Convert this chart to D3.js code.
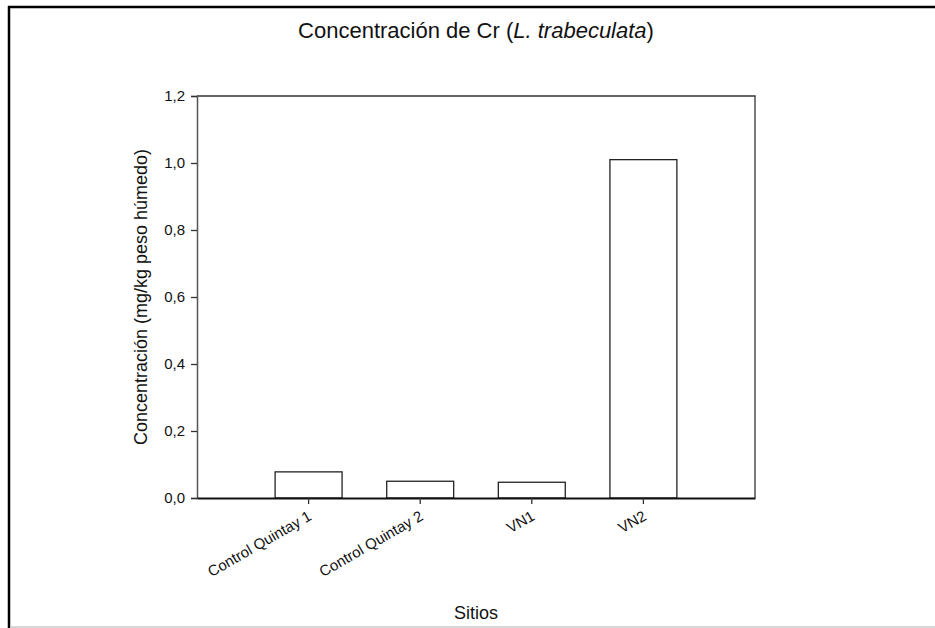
<!DOCTYPE html>
<html lang="es">

<head>
  <meta charset="utf-8">
  <title>Concentración de Cr</title>
  <script src="https://d3js.org/d3.v7.min.js" charset="utf-8"></script>
  <style type="text/css">
    body {
      margin: 0;
      background: #fff;
    }

    text {
      font-family: "Liberation Sans", Arial, sans-serif;
      fill: #111;
    }

    .axis text {
      font-size: 15px;
    }

    .bar {
      fill: #fff;
      stroke: #222;
      stroke-width: 1.3;
    }
  </style>
</head>

<body>

  <svg id="chart"></svg>

  <script type="text/javascript">
    const sitios = ["Control Quintay 1", "Control Quintay 2", "VN1", "VN2"];
    const concentracion = [0.078, 0.05, 0.047, 1.01];
    const yTicks = [0, 0.2, 0.4, 0.6, 0.8, 1.0, 1.2];

    const W = 935, H = 628;
    const plot = { left: 197, top: 96, right: 755, bottom: 498 };

    const svg = d3.select("#chart")
      .attr("width", W)
      .attr("height", H);

    // outer frame: top and left dark, light line at the bottom
    svg.append("line")
      .attr("x1", 8).attr("x2", W).attr("y1", 7).attr("y2", 7)
      .attr("stroke", "#000").attr("stroke-width", 2.5);
    svg.append("line")
      .attr("x1", 9).attr("x2", 9).attr("y1", 6).attr("y2", H)
      .attr("stroke", "#000").attr("stroke-width", 2.5);
    svg.append("line")
      .attr("x1", 10).attr("x2", W).attr("y1", 627).attr("y2", 627)
      .attr("stroke", "#c8c8c8").attr("stroke-width", 1.5);

    const xScale = d3.scaleBand()
      .domain(sitios)
      .range([plot.left, plot.right])
      .paddingInner(0.4)
      .paddingOuter(0.7);

    const yScale = d3.scaleLinear()
      .domain([0, 1.2])
      .range([plot.bottom, plot.top]);

    const data = sitios.map((s, i) => ({ sitio: s, valor: concentracion[i] }));

    // bars
    svg.selectAll(".bar")
      .data(data)
      .enter()
      .append("rect")
      .attr("class", "bar")
      .attr("x", d => xScale(d.sitio))
      .attr("y", d => yScale(d.valor))
      .attr("width", xScale.bandwidth())
      .attr("height", d => yScale(0) - yScale(d.valor));

    // plot frame (top and right)
    svg.append("path")
      .attr("d", `M${plot.left},${plot.top}H${plot.right}V${plot.bottom}`)
      .attr("fill", "none")
      .attr("stroke", "#333")
      .attr("stroke-width", 1.3);

    // y axis
    const yAxis = svg.append("g")
      .attr("class", "axis")
      .attr("transform", `translate(${plot.left},0)`)
      .call(d3.axisLeft(yScale)
        .tickValues(yTicks)
        .tickSize(6)
        .tickPadding(6)
        .tickFormat(d => d3.format(".1f")(d).replace(".", ",")));
    yAxis.select(".domain").attr("stroke", "#555").attr("stroke-width", 1.5);
    yAxis.selectAll(".tick line").attr("stroke", "#333").attr("stroke-width", 1.3);
    yAxis.selectAll(".tick text").attr("fill", "#111");

    // x axis
    const xAxis = svg.append("g")
      .attr("class", "axis")
      .attr("transform", `translate(0,${plot.bottom})`)
      .call(d3.axisBottom(xScale).tickSize(6).tickSizeOuter(0));
    xAxis.select(".domain").attr("stroke", "#111").attr("stroke-width", 2);
    xAxis.selectAll(".tick line").attr("stroke", "#333").attr("stroke-width", 1.3);
    xAxis.selectAll(".tick text")
      .attr("fill", "#111")
      .attr("text-anchor", "end")
      .attr("dy", null)
      .attr("y", 0)
      .attr("transform", "translate(4,21) rotate(-30)");

    // title
    const title = svg.append("text")
      .attr("x", (plot.left + plot.right) / 2)
      .attr("y", 38)
      .attr("text-anchor", "middle")
      .style("font-size", "22px");
    title.append("tspan").text("Concentración de Cr (");
    title.append("tspan").style("font-style", "italic").text("L. trabeculata");
    title.append("tspan").text(")");

    // axis titles
    svg.append("text")
      .attr("x", (plot.left + plot.right) / 2)
      .attr("y", 619)
      .attr("text-anchor", "middle")
      .style("font-size", "18px")
      .text("Sitios");

    svg.append("text")
      .attr("transform", `translate(147,${(plot.top + plot.bottom) / 2}) rotate(-90)`)
      .attr("text-anchor", "middle")
      .style("font-size", "18px")
      .text("Concentración (mg/kg peso húmedo)");
  </script>
</body>

</html>
